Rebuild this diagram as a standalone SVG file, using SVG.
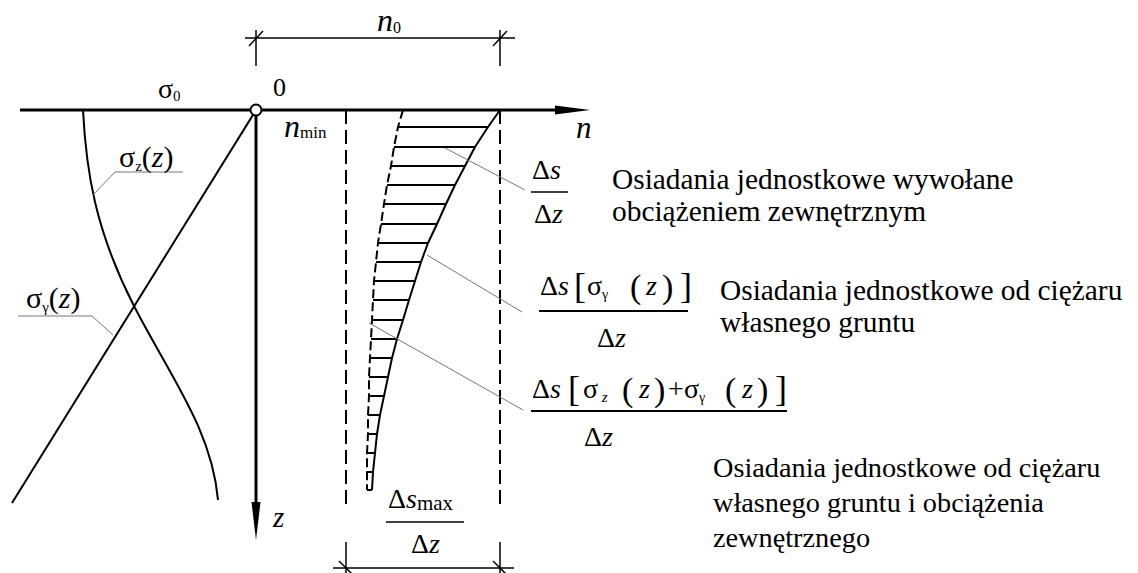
<svg xmlns="http://www.w3.org/2000/svg" width="1138" height="573" viewBox="0 0 1138 573" font-family="Liberation Serif, Times New Roman, DejaVu Serif, serif">
<style>
text{font-family:'Liberation Serif','Times New Roman','DejaVu Serif',serif;fill:#000}
.it{font-style:italic}
.thick{stroke:#000;stroke-width:3;fill:none}
.med{stroke:#000;stroke-width:2;fill:none}
.thin{stroke:#000;stroke-width:1.5;fill:none}
.lead{stroke:#777;stroke-width:1;fill:none}
.dash{stroke:#000;stroke-width:2;fill:none;stroke-dasharray:14 6}
.d1{font-size:29.4px}
.d3{font-size:28.3px}
.fr{font-size:28px}
</style>
<rect width="1138" height="573" fill="#fff"/>
<g id="axes">
<line class="thick" x1="20" y1="110" x2="560" y2="110"/>
<polygon points="555,105.5 590,110 555,114.5" fill="#000"/>
<line class="thick" x1="256" y1="110" x2="256" y2="505"/>
<polygon points="251.5,502 256,540 260.5,502" fill="#000"/>
<text class="it" x="576" y="138" font-size="31">n</text>
<text class="it" x="273" y="527" font-size="29">z</text>
<text x="273" y="96" font-size="26">0</text>
<text x="158" y="98" font-size="28">σ<tspan font-size="15" dy="3">0</tspan></text>
</g>
<g id="sigma-gamma">
<line class="med" x1="256" y1="110" x2="12" y2="503"/>
<polyline class="lead" points="18,316 92,316 113,335"/>
<text x="26" y="308" font-size="30">σ<tspan font-size="15" dy="4">γ</tspan><tspan dy="-4">(</tspan><tspan class="it">z</tspan>)</text>
</g>
<g id="sigma-z">
<path class="med" d="M83,110 C86,170 95,230 134,306 C170,376 212,430 218,500"/>
<polyline class="lead" points="183,172 115,172 93,195"/>
<text x="119" y="167" font-size="30">σ<tspan font-size="15" dy="4">z</tspan><tspan dy="-4">(</tspan><tspan class="it">z</tspan>)</text>
</g>
<circle id="origin" cx="256" cy="110" r="5.5" fill="#fff" stroke="#000" stroke-width="2"/>
<g id="dim-n0">
<line class="thin" x1="245" y1="38" x2="515" y2="38"/>
<line class="thin" x1="256" y1="30" x2="256" y2="66"/>
<line class="thin" x1="500" y1="30" x2="500" y2="66"/>
<line class="thin" x1="249" y1="46" x2="263" y2="31"/>
<line class="thin" x1="493" y1="46" x2="507" y2="31"/>
<text x="377" y="31"><tspan class="it" font-size="32">n</tspan><tspan font-size="16" dy="2">0</tspan></text>
</g>
<text id="nmin" x="284" y="137"><tspan class="it" font-size="32">n</tspan><tspan font-size="17" dy="1">min</tspan></text>
<g id="bounds">
<line class="dash" x1="346" y1="110" x2="346" y2="505"/>
<line class="dash" x1="500" y1="110" x2="500" y2="505"/>
</g>
<g id="settlement">
<polyline class="med" stroke-linejoin="round" points="500,110 488,127 475,147 465,166 455,185 446,204 437,224 428,243 421,262 415,281 409,300 403,320 397,339 392,358 388,377 384,396 380,415 377,434 375,453 373,472 372,490"/>
<polyline class="med" stroke-dasharray="9 4" stroke-linejoin="round" points="403,110 398,127 394,147 391,166 387,185 384,204 381,224 378,243 376,262 374,281 373,300 372,320 371,339 370,358 369,377 369,396 368,415 368,434 367,453 367,472 367,490"/>
<g class="med">
<line x1="398" y1="127" x2="488" y2="127"/><line x1="394" y1="147" x2="475" y2="147"/>
<line x1="391" y1="166" x2="465" y2="166"/><line x1="387" y1="185" x2="455" y2="185"/>
<line x1="384" y1="204" x2="446" y2="204"/><line x1="381" y1="224" x2="437" y2="224"/>
<line x1="378" y1="243" x2="428" y2="243"/><line x1="376" y1="262" x2="421" y2="262"/>
<line x1="374" y1="281" x2="415" y2="281"/><line x1="373" y1="300" x2="409" y2="300"/>
<line x1="372" y1="320" x2="403" y2="320"/><line x1="371" y1="339" x2="397" y2="339"/>
<line x1="370" y1="358" x2="392" y2="358"/><line x1="369" y1="377" x2="388" y2="377"/>
<line x1="369" y1="396" x2="384" y2="396"/><line x1="368" y1="415" x2="380" y2="415"/>
<line x1="368" y1="434" x2="377" y2="434"/><line x1="367" y1="453" x2="375" y2="453"/>
<line x1="367" y1="472" x2="373" y2="472"/><line x1="367" y1="490" x2="372" y2="490"/>
</g>
</g>
<g id="dim-max">
<line class="thin" x1="333" y1="568" x2="514" y2="568"/>
<line class="thin" x1="346" y1="542" x2="346" y2="573"/>
<line class="thin" x1="500" y1="542" x2="500" y2="573"/>
<line class="thin" x1="339" y1="561" x2="353" y2="575"/>
<line class="thin" x1="493" y1="561" x2="507" y2="575"/>
<text x="388" y="508" class="fr">Δ<tspan class="it">s</tspan><tspan font-size="21" dy="2">max</tspan></text>
<line class="thin" x1="386" y1="522" x2="464" y2="522"/>
<text x="411" y="553" class="fr">Δ<tspan class="it">z</tspan></text>
</g>
<g id="leaders">
<line class="lead" x1="445" y1="148" x2="525" y2="190"/>
<line class="lead" x1="427" y1="255" x2="522" y2="312"/>
<line class="lead" x1="369" y1="323" x2="523" y2="410"/>
</g>
<g id="label1">
<text x="532" y="179" class="fr">Δ<tspan class="it">s</tspan></text>
<line class="thin" x1="531" y1="192" x2="568" y2="192"/>
<text x="534" y="223" class="fr">Δ<tspan class="it">z</tspan></text>
<text x="612" y="189" class="d1">Osiadania jednostkowe wywołane</text>
<text x="612" y="221" class="d1">obciążeniem zewnętrznym</text>
</g>
<g id="label2">
<text x="540" y="295" class="fr">Δ<tspan class="it">s</tspan><tspan x="574" font-size="36" dy="3">[</tspan><tspan x="587" dy="-3">σ</tspan><tspan font-size="14" dy="4">γ</tspan><tspan x="630" font-size="34" dy="-1">(</tspan><tspan x="646" class="it" dy="-3">z</tspan><tspan x="662" font-size="34" dy="3">)</tspan><tspan x="680" font-size="36" dy="0">]</tspan></text>
<line class="med" x1="539" y1="311" x2="688" y2="311"/>
<text x="597" y="347" class="fr">Δ<tspan class="it">z</tspan></text>
<text x="720" y="300" class="d1">Osiadania jednostkowe od ciężaru</text>
<text x="720" y="332" class="d1">własnego gruntu</text>
</g>
<g id="label3">
<text x="532" y="398" class="fr">Δ<tspan class="it">s</tspan><tspan x="568" font-size="36" dy="3">[</tspan><tspan x="583" dy="-3">σ</tspan><tspan class="it" font-size="15" dy="4"> z</tspan><tspan x="622" font-size="34" dy="-1">(</tspan><tspan x="639" class="it" dy="-3">z</tspan><tspan x="654" font-size="34" dy="3">)</tspan><tspan x="668" dy="-3">+</tspan><tspan x="684" dy="0">σ</tspan><tspan font-size="14" dy="4">γ</tspan><tspan x="725" font-size="34" dy="-1">(</tspan><tspan x="742" class="it" dy="-3">z</tspan><tspan x="757" font-size="34" dy="3">)</tspan><tspan x="775" font-size="36" dy="0">]</tspan></text>
<line class="med" x1="531" y1="411" x2="787" y2="411"/>
<text x="584" y="446" class="fr">Δ<tspan class="it">z</tspan></text>
<text x="713" y="477" class="d3">Osiadania jednostkowe od ciężaru</text>
<text x="713" y="512" class="d3">własnego gruntu i obciążenia</text>
<text x="713" y="547" class="d3">zewnętrznego</text>
</g>
</svg>
